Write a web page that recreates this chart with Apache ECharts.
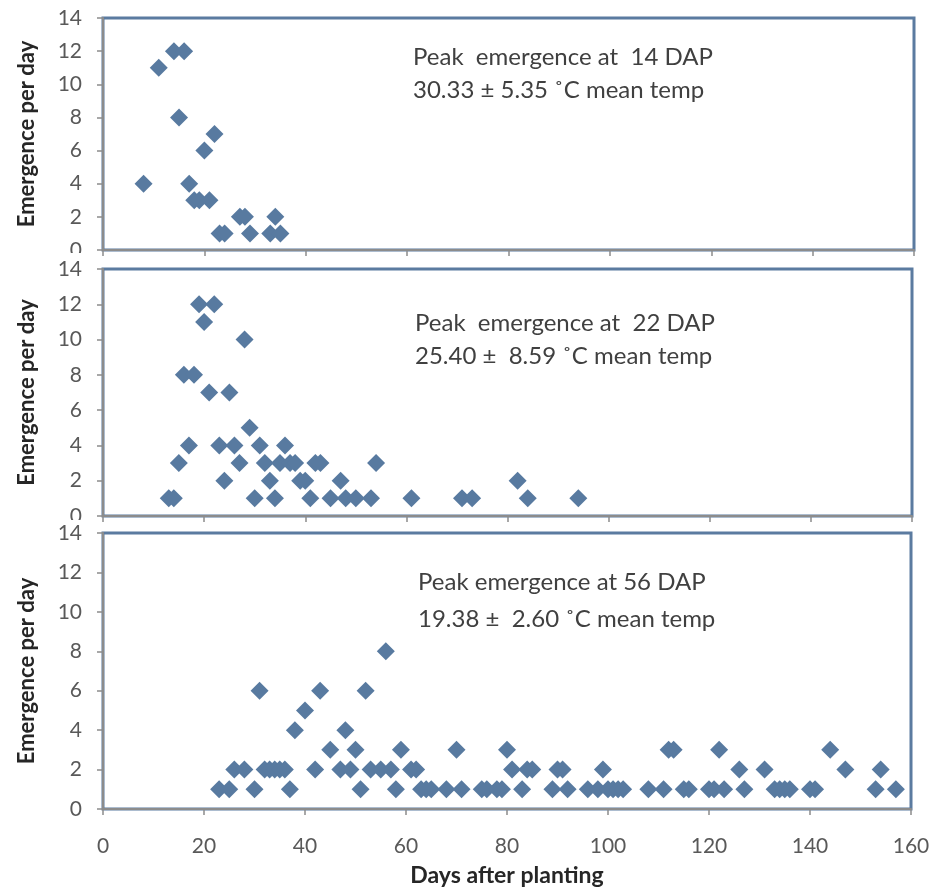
<!DOCTYPE html>
<html><head><meta charset="utf-8">
<script src="https://cdn.jsdelivr.net/npm/echarts@6/dist/echarts.min.js"></script>
<style>html,body{margin:0;padding:0;background:#fff}#c{width:934px;height:889px}</style>
</head><body><div id="c"></div>
<script>
// Panel 1 (peak at 14 DAP)
const days1 = [8, 11, 14, 15, 16, 17, 18, 19, 20, 21, 22, 23, 24, 27, 28, 29, 33, 34, 35];
const emerg1 = [4, 11, 12, 8, 12, 4, 3, 3, 6, 3, 7, 1, 1, 2, 2, 1, 1, 2, 1];
// Panel 2 (peak at 22 DAP)
const days2 = [13, 14, 15, 16, 17, 18, 19, 20, 21, 22, 23, 24, 25, 26, 27, 28, 29, 30, 31, 32, 33, 34, 35, 36, 37, 38, 39, 40, 41, 42, 43, 45, 47, 48, 50, 53, 54, 61, 71, 73, 82, 84, 94];
const emerg2 = [1, 1, 3, 8, 4, 8, 12, 11, 7, 12, 4, 2, 7, 4, 3, 10, 5, 1, 4, 3, 2, 1, 3, 4, 3, 3, 2, 2, 1, 3, 3, 1, 2, 1, 1, 1, 3, 1, 1, 1, 2, 1, 1];
// Panel 3 (peak at 56 DAP)
const days3 = [23, 25, 26, 28, 30, 31, 32, 33, 34, 35, 36, 37, 38, 40, 42, 43, 45, 47, 48, 49, 50, 51, 52, 53, 55, 56, 57, 58, 59, 61, 62, 63, 64, 65, 68, 70, 71, 75, 76, 78, 79, 80, 81, 83, 84, 85, 89, 90, 91, 92, 96, 98, 99, 100, 101, 102, 103, 108, 111, 112, 113, 115, 116, 120, 121, 122, 123, 126, 127, 131, 133, 134, 135, 136, 140, 141, 144, 147, 153, 154, 157];
const emerg3 = [1, 1, 2, 2, 1, 6, 2, 2, 2, 2, 2, 1, 4, 5, 2, 6, 3, 2, 4, 2, 3, 1, 6, 2, 2, 8, 2, 1, 3, 2, 2, 1, 1, 1, 1, 3, 1, 1, 1, 1, 1, 3, 2, 1, 2, 2, 1, 2, 2, 1, 1, 1, 2, 1, 1, 1, 1, 1, 1, 3, 3, 1, 1, 1, 1, 3, 1, 2, 1, 2, 1, 1, 1, 1, 1, 1, 3, 2, 1, 2, 1];

const annot1 = ["Peak  emergence at  14 DAP", "30.33 ± 5.35 ˚C mean temp"];
const annot2 = ["Peak  emergence at  22 DAP", "25.40 ±  8.59 ˚C mean temp"];
const annot3 = ["Peak emergence at 56 DAP", "19.38 ±  2.60 ˚C mean temp"];
const yName = "Emergence per day";
const xName = "Days after planting";

const FONT = "Lato";
const AX = "#8c8c8c";
const BORDER = "#5b7ba0";
const MARK = "#587aa0";

const grids = [
  {left: 103, top: 18, width: 811, height: 232},
  {left: 103, top: 269, width: 809, height: 247},
  {left: 103, top: 533, width: 808, height: 276}
].map(g => Object.assign(g, {show: true, borderColor: BORDER, borderWidth: 3, backgroundColor: "#fff", containLabel: false}));

function xAx(i) {
  return {
    gridIndex: i, type: "value", min: 0, max: 160, interval: 20, z: i * 10,
    axisLine: {show: true, onZero: false, lineStyle: {color: AX, width: 2}},
    axisTick: {show: true, length: 6, lineStyle: {color: AX, width: 1.5}},
    splitLine: {show: false},
    axisLabel: {show: i === 2, fontSize: 21, color: "#595959", fontFamily: FONT, margin: 27},
    name: i === 2 ? xName : "", nameLocation: "middle", nameGap: 55,
    nameTextStyle: {fontSize: 23, fontWeight: "bold", color: "#262626", fontFamily: FONT}
  };
}
function yAx(i) {
  return {
    gridIndex: i, type: "value", min: 0, max: 14, interval: 2, z: i * 10,
    axisLine: {show: true, lineStyle: {color: AX, width: 2}},
    axisTick: {show: true, length: 6, lineStyle: {color: AX, width: 1.5}},
    splitLine: {show: false},
    axisLabel: {fontSize: 21, color: "#595959", fontFamily: FONT, margin: 21},
    name: yName, nameLocation: "middle", nameGap: 65,
    nameTextStyle: {fontSize: 22, fontWeight: "bold", color: "#262626", fontFamily: FONT}
  };
}
function ser(i, xs, ys) {
  return {
    type: "scatter", xAxisIndex: i, yAxisIndex: i, symbol: "diamond", symbolSize: 18,
    z: i * 10 + 3,
    itemStyle: {color: MARK, opacity: 1},
    data: xs.map((d, k) => [d, ys[k]])
  };
}
function txt(x, y, s) {
  return {type: "text", x: x, y: y, z: 100,
    style: {text: s, fontSize: 24, fontFamily: FONT, fill: "#404040", verticalAlign: "middle"}};
}

const chart = echarts.init(document.getElementById("c"), null, {renderer: "canvas"});
chart.setOption({
  animation: false,
  backgroundColor: "#fff",
  grid: grids,
  xAxis: [xAx(0), xAx(1), xAx(2)],
  yAxis: [yAx(0), yAx(1), yAx(2)],
  series: [ser(0, days1, emerg1), ser(1, days2, emerg2), ser(2, days3, emerg3)],
  graphic: [
    {type: "rect", z: 5, shape: {x: 40, y: 253, width: 58, height: 10}, style: {fill: "#fff"}},
    {type: "rect", z: 15, shape: {x: 40, y: 520, width: 58, height: 8}, style: {fill: "#fff"}},
    txt(413, 57, annot1[0]), txt(413, 90, annot1[1]),
    txt(415, 323, annot2[0]), txt(415, 356, annot2[1]),
    txt(418, 582, annot3[0]), txt(418, 619, annot3[1])
  ]
});
</script></body></html>
